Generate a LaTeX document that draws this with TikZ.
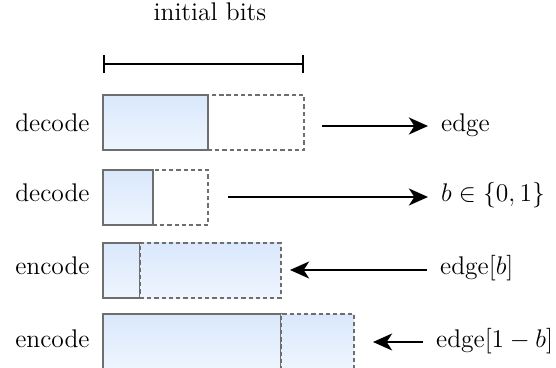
\documentclass[tikz,border=0pt]{standalone}
\usetikzlibrary{arrows.meta,fit}
\definecolor{boxgray}{HTML}{6E6E6E}
\definecolor{bittop}{HTML}{DAE8FC}
\definecolor{bitbot}{HTML}{EEF5FE}
\tikzset{
  bitbox/.style={draw=boxgray, line width=0.6pt, top color=bittop, bottom color=bitbot, inner sep=0pt},
  freebox/.style={draw=boxgray, line width=0.6pt, dash pattern=on 2pt off 1.4pt, inner sep=0pt},
  usedbox/.style={freebox, top color=bittop, bottom color=bitbot},
  oplabel/.style={inner sep=0pt, anchor=base east},
  iolabel/.style={inner xsep=6pt, inner ysep=0pt, anchor=base west},
  flow/.style={-{Stealth[length=9pt,width=8pt,inset=2.6pt]}, line width=1pt},
  span/.style={{Bar[width=8.5pt]}-{Bar[width=8.5pt]}, line width=0.8pt}
}
\begin{document}
\begin{tikzpicture}[x=0.47pt, y=-0.47pt, font=\large]
    \useasboundingbox (0,0) rectangle (556,368);

    \node[anchor=base] (title) at (210,21) {initial bits};
    \coordinate (barl) at (103,64);
    \coordinate (barr) at (304,64);
    \draw[span] (barl) -- (barr);

    % decode, full edge
    \node[freebox, fit={(208,95) (304,150)}] (d1) {};
    \node[bitbox, fit={(103,95) (208,150)}] (s1) {};
    \node[oplabel] (op1) at (90,132) {decode};
    \node[iolabel] (out1) at (428,132) {edge};
    \coordinate (a1) at (322,126);
    \draw[flow] (a1) -- (a1 -| out1.west);

    % decode, one bit
    \node[freebox, fit={(153,170) (208,225)}] (d2) {};
    \node[bitbox, fit={(103,170) (153,225)}] (s2) {};
    \node[oplabel] (op2) at (90,202) {decode};
    \node[iolabel] (out2) at (428,202) {$b \in \{0,1\}$};
    \coordinate (a2) at (228,197);
    \draw[flow] (a2) -- (a2 -| out2.west);

    % encode, chosen edge
    \node[bitbox, fit={(103,243) (140,298)}] (s3) {};
    \node[usedbox, fit={(140,243) (281,298)}] (d3) {};
    \node[oplabel] (op3) at (90,275) {encode};
    \node[iolabel] (in3) at (427,275) {edge$[b]$};
    \coordinate (a3) at (290,270);
    \draw[flow] (a3 -| in3.west) -- (a3);

    % encode, other edge
    \node[bitbox, fit={(103,314) (281,369)}] (s4) {};
    \node[usedbox, fit={(281,314) (354,369)}] (d4) {};
    \node[oplabel] (op4) at (90,347) {encode};
    \node[iolabel] (in4) at (423,347) {edge$[1-b]$};
    \coordinate (a4) at (373,342);
    \draw[flow] (a4 -| in4.west) -- (a4);
\end{tikzpicture}
\end{document}
